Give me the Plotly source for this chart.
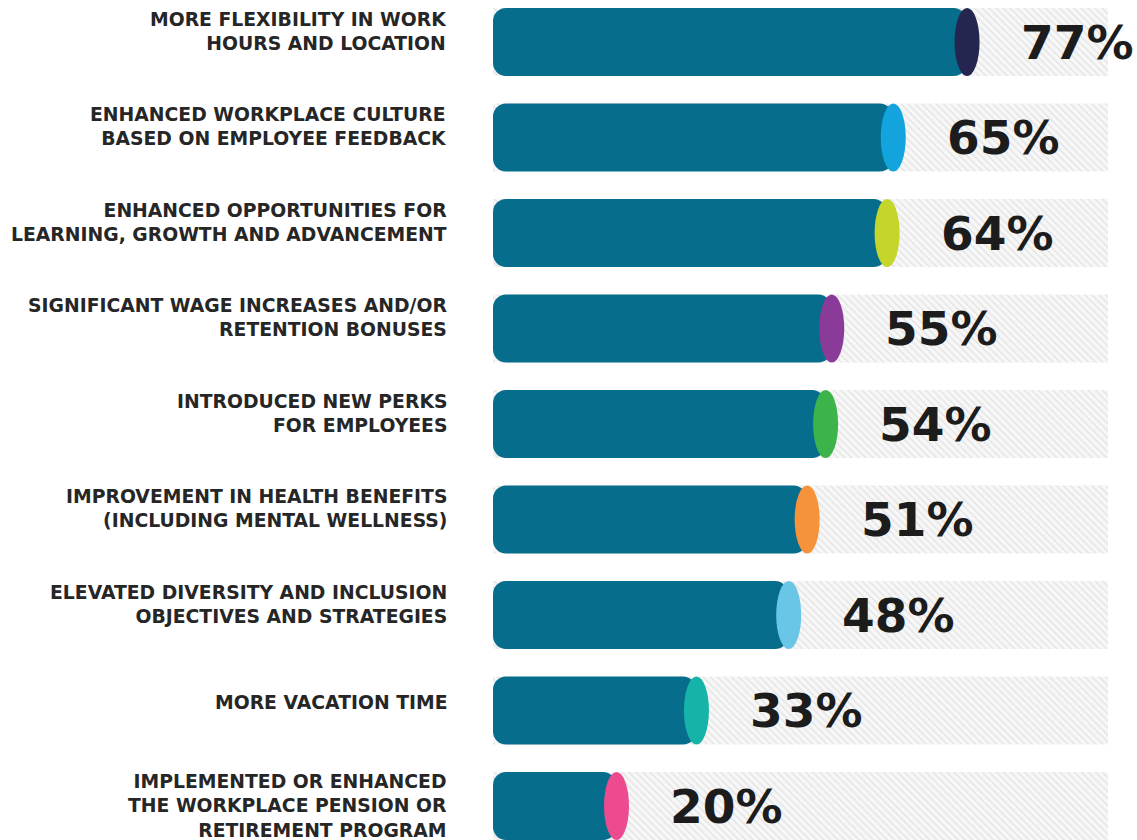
import plotly.graph_objects as go

# Survey results: actions taken by employers to keep staff
labels = [
    "MORE FLEXIBILITY IN WORK<br>HOURS AND LOCATION",
    "ENHANCED WORKPLACE CULTURE<br>BASED ON EMPLOYEE FEEDBACK",
    "ENHANCED OPPORTUNITIES FOR<br>LEARNING, GROWTH AND ADVANCEMENT",
    "SIGNIFICANT WAGE INCREASES AND/OR<br>RETENTION BONUSES",
    "INTRODUCED NEW PERKS<br>FOR EMPLOYEES",
    "IMPROVEMENT IN HEALTH BENEFITS<br>(INCLUDING MENTAL WELLNESS)",
    "ELEVATED DIVERSITY AND INCLUSION<br>OBJECTIVES AND STRATEGIES",
    "MORE VACATION TIME",
    "IMPLEMENTED OR ENHANCED<br>THE WORKPLACE PENSION OR<br>RETIREMENT PROGRAM",
]
values = [77, 65, 64, 55, 54, 51, 48, 33, 20]
cap_colors = ["#24264f", "#13a4de", "#c5d62b", "#8a3b99", "#3cb44b",
              "#f6923a", "#6ac6e6", "#15b3a8", "#ec4b8f"]

BAR_COLOR = "#066e8c"
FULL = 100
rows = list(range(len(values)))
BAR_W = 0.712

fig = go.Figure()

# hatched background track
fig.add_trace(go.Bar(
    y=rows, x=[FULL] * len(values), base=0, orientation="h", width=BAR_W,
    marker=dict(color="#f6f6f6", line_width=0,
                pattern=dict(shape="\\", fgcolor="#d2d2d2", bgcolor="#f7f7f7",
                             size=5, solidity=0.3)),
    hoverinfo="skip",
))

# teal bars, drawn from the value back to zero so the rounded end sits on the left
fig.add_trace(go.Bar(
    y=rows, x=[-v for v in values], base=values, orientation="h", width=BAR_W,
    marker=dict(color=BAR_COLOR, line_width=0, cornerradius=13),
    hoverinfo="skip",
))

shapes = []
annotations = []
for i, (v, c, lab) in enumerate(zip(values, cap_colors, labels)):
    # coloured end cap of the cylinder
    shapes.append(dict(
        type="circle", xref="x", yref="y", xsizemode="pixel", xanchor=v,
        x0=-12, x1=13, y0=i - BAR_W / 2, y1=i + BAR_W / 2,
        fillcolor=c, line_width=0, layer="above",
    ))
    n_lines = lab.count("<br>") + 1
    shift = {1: 8, 2: 11, 3: 0}[n_lines]
    annotations.append(dict(
        x=0, y=i, xref="x", yref="y", xanchor="right", yanchor="middle",
        xshift=-44, yshift=shift, text=lab, showarrow=False, align="right",
        font=dict(family="DejaVu Sans", size=18.8, color="#262626", weight="bold"),
    ))
    annotations.append(dict(
        x=v, y=i, xref="x", yref="y", xanchor="left", yanchor="middle",
        xshift=52, text=f"{v}%", showarrow=False,
        font=dict(family="DejaVu Sans", size=47, color="#1c1c1c", weight="bold"),
    ))

fig.update_layout(
    width=1137, height=840,
    margin=dict(l=0, r=0, t=0, b=0),
    paper_bgcolor="white", plot_bgcolor="white",
    barmode="overlay", showlegend=False,
    shapes=shapes, annotations=annotations,
    xaxis=dict(domain=[493 / 1137, 1], range=[0, (1137 - 493) / 6.15],
               visible=False, fixedrange=True),
    yaxis=dict(range=[8.356, -0.44], visible=False, fixedrange=True),
)

fig.write_html("out.html")
